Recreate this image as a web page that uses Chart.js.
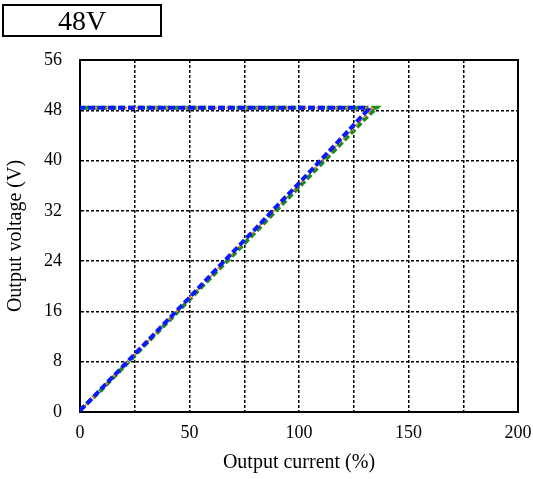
<!DOCTYPE html>
<html>
<head>
<meta charset="utf-8">
<script src="https://cdn.jsdelivr.net/npm/chart.js@4/dist/chart.umd.min.js"></script>
<style>
  html,body{margin:0;padding:0;background:#fff;}
  #wrap{position:relative;width:533px;height:479px;}
  #title{position:absolute;left:2px;top:4px;width:156px;height:29px;border:2px solid #000;
    font-family:"Liberation Serif","DejaVu Serif",serif;font-size:28px;line-height:30px;text-align:center;color:#000;}
  canvas{position:absolute;left:0;top:0;}
</style>
</head>
<body>
<div id="wrap">
<canvas id="c" width="533" height="479"></canvas>
<div id="title">48V</div>
</div>
<script>
// Data
const greenCurrent = [0, 10, 20, 30, 40, 50, 60, 70, 80, 90, 100, 110, 120, 130, 135.5, 132, 120, 100, 75, 50, 25, 0];
const greenVoltage = [0.3, 3.6, 7.2, 10.8, 14.3, 17.9, 21.5, 25.0, 28.6, 32.2, 35.8, 39.4, 43.0, 46.6, 48.4, 48.4, 48.4, 48.4, 48.4, 48.4, 48.4, 48.4];
const orangeCurrent = [0, 10, 20, 30, 40, 50, 60, 70, 80, 90, 100, 110, 120, 130, 133.5, 131, 120, 100, 75, 50, 25, 0];
const orangeVoltage = [0.2, 3.7, 7.3, 10.9, 14.5, 18.1, 21.7, 25.3, 28.9, 32.5, 36.2, 39.8, 43.4, 47.0, 48.3, 48.4, 48.4, 48.4, 48.4, 48.4, 48.4, 48.4];
const blueCurrent = [0, 10, 20, 30, 40, 50, 60, 70, 80, 90, 100, 110, 120, 128, 131.5, 129.5, 120, 100, 75, 50, 25, 0];
const blueVoltage = [0.2, 3.8, 7.4, 11.0, 14.6, 18.2, 21.9, 25.5, 29.1, 32.8, 36.4, 40.1, 43.8, 46.8, 48.1, 48.4, 48.4, 48.4, 48.4, 48.4, 48.4, 48.4];
const xTickLabels = ['0', '50', '100', '150', '200'];
const yTickLabels = ['0', '8', '16', '24', '32', '40', '48', '56'];

function pts(xs, ys){ return xs.map((x,i)=>({x:x, y:ys[i]})); }

const serif = '"Liberation Serif","DejaVu Serif",serif';

// Chart.js paints dataset 0 on top, so blue is listed first
new Chart(document.getElementById('c'), {
  type: 'scatter',
  data: {
    datasets: [
      {data: pts(blueCurrent, blueVoltage), showLine:true, borderColor:'#0a1aff', borderWidth:4, borderDash:[7,3], pointRadius:0, fill:false},
      {data: pts(orangeCurrent, orangeVoltage), showLine:true, borderColor:'#ff7f27', borderWidth:2, borderDash:[3,3], pointRadius:0, fill:false},
      {data: pts(greenCurrent, greenVoltage), showLine:true, borderColor:'#1a8a1a', borderWidth:4, borderDash:[6,3], pointRadius:0, fill:false}
    ]
  },
  options: {
    responsive:false, animation:false, devicePixelRatio:1,
    layout:{padding:{left:0, top:60, right:15, bottom:0}},
    plugins:{legend:{display:false}, tooltip:{enabled:false}},
    scales:{
      x:{
        type:'linear', min:0, max:200,
        afterFit:(s)=>{s.height=67; s.paddingRight=0; s.paddingLeft=0;},
        ticks:{stepSize:25, padding:10, color:'#000', font:{family:serif, size:18},
          callback:(v)=>{const i=xTickLabels.indexOf(String(v)); return i>=0 ? xTickLabels[i] : '';}},
        grid:{color:'#000', lineWidth:1.5, drawTicks:false},
        border:{display:true, color:'#000', width:2, dash:[3,2]},
        title:{display:true, text:'Output current (%)', color:'#000', font:{family:serif, size:20}, padding:{top:0,bottom:4}}
      },
      y:{
        type:'linear', min:0, max:56,
        afterFit:(s)=>{s.width=80; s.paddingTop=0; s.paddingBottom=0;},
        ticks:{stepSize:8, padding:18, color:'#000', font:{family:serif, size:18},
          callback:(v)=>{const i=yTickLabels.indexOf(String(v)); return i>=0 ? yTickLabels[i] : '';}},
        grid:{color:'#000', lineWidth:1.5, drawTicks:false},
        border:{display:true, color:'#000', width:2, dash:[3,2]},
        title:{display:true, text:'Output voltage (V)', color:'#000', font:{family:serif, size:20}, padding:{top:4,bottom:0}}
      }
    }
  },
  plugins:[{
    id:'frame',
    beforeDatasetsDraw(chart){
      const a=chart.chartArea, ctx=chart.ctx;
      ctx.save(); ctx.strokeStyle='#000'; ctx.lineWidth=2; ctx.setLineDash([]);
      ctx.strokeRect(a.left, a.top, a.right-a.left, a.bottom-a.top);
      ctx.restore();
    }
  }]
});
</script>
</body>
</html>
